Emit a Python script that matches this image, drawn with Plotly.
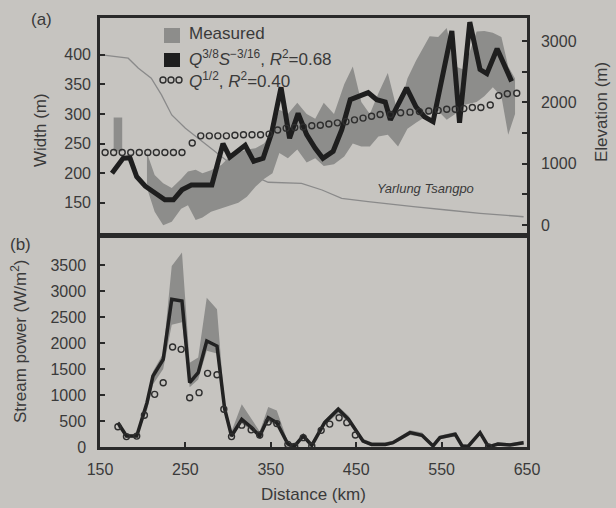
import plotly.graph_objects as go

# ---------------- Data ----------------
# (a) elevation profile (km, m)
elev_km = [152, 183, 195, 210, 222, 234, 250, 265, 281, 300, 314, 330, 347, 386, 410, 433, 464, 484, 517, 556, 595, 646]
elev_m = [2773, 2720, 2556, 2393, 2121, 1794, 1577, 1414, 1251, 1033, 951, 800, 697, 680, 571, 436, 380, 354, 299, 245, 191, 135]

# (a) measured width band: two separate segments
meas1_km = [166, 176]
meas1_lo = [237, 237]
meas1_hi = [294, 294]
meas2_km = [205, 214, 224, 234, 245, 253, 262, 270, 280, 292, 302, 312, 322, 332, 342, 352, 360, 370, 381,
            392, 402, 412, 424, 436, 446, 456, 466, 476, 487, 499, 510, 520, 536, 546, 556, 566, 576, 591,
            600, 610, 620, 628, 636]
meas2_lo = [175, 135, 112, 118, 140, 146, 121, 125, 135, 140, 145, 150, 160, 177, 190, 200, 234, 225, 240,
            218, 225, 212, 215, 228, 250, 245, 245, 262, 265, 245, 275, 285, 300, 305, 290, 300, 315, 320,
            330, 345, 330, 265, 300]
meas2_hi = [234, 197, 183, 175, 190, 203, 206, 200, 205, 214, 228, 235, 240, 242, 250, 270, 307, 300, 319,
            300, 292, 319, 300, 350, 380, 320, 300, 335, 369, 300, 360, 390, 431, 430, 445, 380, 375, 439,
            440, 437, 430, 380, 360]

# (a) Q^3/8 S^-3/16 model width
mod_km = [164, 177, 185, 193, 203, 214, 226, 236, 246, 257, 269, 281, 294, 302, 320, 330, 341, 351, 362, 372,
          382, 392, 402, 411, 423, 433, 443, 454, 464, 474, 484, 490, 500, 509, 520, 530, 540, 562, 571, 583,
          595, 603, 615, 632]
mod_w = [200, 225, 226, 194, 178, 166, 155, 155, 172, 180, 180, 180, 250, 227, 247, 220, 225, 268, 345, 259,
         301, 265, 242, 225, 237, 273, 324, 330, 336, 324, 320, 290, 318, 344, 312, 295, 287, 440, 285, 455,
         375, 368, 410, 355]

# (a) Q^1/2 model width
q_km = [156, 166, 176, 186, 196, 206, 216, 226, 236, 246, 258, 268, 278, 288, 298, 308, 318, 328, 338, 348,
        358, 368, 378, 388, 398, 408, 418, 428, 438, 448, 458, 468, 478, 490, 502, 513, 524, 535, 546, 556,
        566, 576, 586, 596, 607, 617, 627, 638]
q_w = [235, 235, 235, 235, 235, 235, 235, 235, 235, 235, 251, 263, 263, 263, 263, 264, 265, 265, 265, 266,
       273, 276, 277, 278, 280, 281, 283, 285, 287, 290, 293, 296, 299, 299, 302, 303, 304, 305, 306, 308,
       308, 309, 311, 311, 315, 331, 334, 335]

# (b) stream power
sp_km = [171, 181, 193, 205, 212, 224, 234, 246, 255, 265, 275, 287, 296, 304, 316, 327, 337, 347, 357, 370,
         378, 388, 398, 413, 429, 441, 458, 468, 484, 493, 513, 527, 540, 548, 566, 574, 581, 595, 605, 616,
         630, 646]
sp_mod = [467, 212, 212, 852, 1365, 1686, 2840, 2808, 1237, 1430, 2040, 1942, 730, 212, 532, 380, 212, 564,
          468, 58, 20, 212, 30, 468, 725, 532, 115, 50, 50, 83, 276, 224, 20, 180, 244, 20, 10, 276, 0, 58,
          40, 83]
sp_lo = [380, 180, 180, 700, 1200, 1500, 2350, 2400, 1150, 1300, 1850, 1800, 650, 180, 450, 320, 180, 480,
         420, 30, 0, 180, 10, 420, 650, 480, 80, 20, 20, 50, 230, 190, 0, 150, 200, 0, 0, 230, 0, 30, 20, 50]
sp_hi = [500, 240, 250, 900, 1450, 1800, 3480, 3740, 1620, 1720, 2870, 2650, 800, 300, 820, 550, 300, 770,
         703, 100, 60, 260, 80, 520, 780, 600, 160, 90, 90, 120, 320, 280, 60, 220, 290, 60, 50, 310, 40, 90,
         70, 120]
spq_km = [171, 181, 193, 202, 214, 224, 235, 245, 255, 266, 276, 287, 295, 304, 316, 327, 337, 347, 357, 370,
          378, 388, 398, 409, 419, 430, 439, 449, 605]
spq_val = [390, 200, 210, 610, 1013, 1237, 1923, 1878, 948, 1045, 1417, 1390, 725, 200, 420, 330, 230, 480,
           450, 50, 10, 180, 20, 320, 440, 564, 468, 230, 0]

x_ticks = [150, 250, 350, 450, 550, 650]
w_ticks = [150, 200, 250, 300, 350, 400]
e_ticks = [0, 500, 1000, 1500, 2000, 2500, 3000]
e_ticktext = ["0", "", "1000", "", "2000", "", "3000"]
sp_ticks = [0, 500, 1000, 1500, 2000, 2500, 3000, 3500]

# ---------------- Styling ----------------
BG = "#c6c4c0"
INK = "#2a2a2a"
TXT = "#3a3a3a"
GREY = "#8d8d8b"
FONT = "Liberation Sans, Arial, sans-serif"


def band(xs, lo, hi):
    return list(xs) + list(xs)[::-1], list(hi) + list(lo)[::-1]


fig = go.Figure()

# elevation (base axis of the top panel, drawn underneath)
fig.add_trace(go.Scatter(x=elev_km, y=elev_m, xaxis="x2", yaxis="y", mode="lines",
                         line=dict(color="#8a8a8a", width=1.3), showlegend=False, hoverinfo="skip"))

# measured band (top)
bx1, by1 = band(meas1_km, meas1_lo, meas1_hi)
bx2, by2 = band(meas2_km, meas2_lo, meas2_hi)
fig.add_trace(go.Scatter(x=bx1 + [None] + bx2, y=by1 + [None] + by2, xaxis="x2", yaxis="y2",
                         mode="lines", fill="toself", fillcolor=GREY, line=dict(width=0, color=GREY),
                         showlegend=False, hoverinfo="skip"))
# model width
fig.add_trace(go.Scatter(x=mod_km, y=mod_w, xaxis="x2", yaxis="y2", mode="lines",
                         line=dict(color="#1e1e1e", width=5), showlegend=False))
# Q^1/2
fig.add_trace(go.Scatter(x=q_km, y=q_w, xaxis="x2", yaxis="y2", mode="markers",
                         marker=dict(symbol="circle-open", size=6, color="#2e2e2e", line=dict(width=1.4)),
                         showlegend=False))

# bottom panel
sbx, sby = band(sp_km, sp_lo, sp_hi)
fig.add_trace(go.Scatter(x=sbx, y=sby, xaxis="x", yaxis="y3", mode="lines", fill="toself",
                         fillcolor=GREY, line=dict(width=0, color=GREY), showlegend=False, hoverinfo="skip"))
fig.add_trace(go.Scatter(x=sp_km, y=sp_mod, xaxis="x", yaxis="y3", mode="lines",
                         line=dict(color="#222222", width=3.5), showlegend=False))
fig.add_trace(go.Scatter(x=spq_km, y=spq_val, xaxis="x", yaxis="y3", mode="markers",
                         marker=dict(symbol="circle-open", size=6, color="#2e2e2e", line=dict(width=1.4)),
                         showlegend=False))

W, H = 616, 508
L, R, T, B = 100, 89, 18, 61
PW, PH = W - L - R, H - T - B


def px(x):
    return (x - L) / PW


def py(y):
    return 1 - (y - T) / PH


top_dom = [py(233), 1]
bot_dom = [0, py(238)]

axis_common = dict(showline=True, linecolor=INK, linewidth=2.5, showgrid=False, zeroline=False,
                   ticks="inside", ticklen=5, tickwidth=2, tickcolor=INK,
                   tickfont=dict(family=FONT, size=16, color=TXT))

fig.update_layout(
    width=W, height=H,
    margin=dict(l=L, r=R, t=T, b=B),
    paper_bgcolor=BG, plot_bgcolor=BG,
    font=dict(family=FONT, color=TXT),
    xaxis=dict(domain=[0, 1], anchor="y3", range=[150, 650], tickvals=x_ticks, mirror=True,
               ticklabelstandoff=6, **axis_common),
    xaxis2=dict(domain=[0, 1], anchor="y", range=[150, 650], showticklabels=False, showline=True,
                linecolor=INK, linewidth=2.5, mirror=True, showgrid=False, zeroline=False, ticks=""),
    yaxis=dict(domain=top_dom, anchor="x2", side="right", range=[-130, 3375], tickvals=e_ticks,
               ticktext=e_ticktext, mirror=True, ticklabelstandoff=8, **axis_common),
    yaxis2=dict(overlaying="y", anchor="x2", side="left", range=[99, 462], tickvals=w_ticks,
                ticklabelstandoff=8, **{k: v for k, v in axis_common.items() if k != "showline"},
                ),
    yaxis3=dict(domain=bot_dom, anchor="x", range=[0, 4020], tickvals=sp_ticks, mirror=True,
                ticklabelstandoff=8, **axis_common),
)
fig.layout.yaxis2.showline = False

ann = []


def text(x, y, s, size=16, angle=0, xanchor="center", italic=False):
    ann.append(dict(x=px(x), y=py(y), xref="paper", yref="paper", text=s, showarrow=False,
                    textangle=angle, xanchor=xanchor, yanchor="middle",
                    font=dict(family=FONT, size=size, color=TXT,
                              style="italic" if italic else "normal")))


text(42, 20, "(a)", 17)
text(20, 244, "(b)", 17)
text(40, 130, "Width (m)", 17, angle=-90)
text(601, 112, "Elevation (m)", 17, angle=-90)
text(19, 342, "Stream power (W/m<sup>2</sup>)", 17, angle=-90)
text(313, 494, "Distance (km)", 17)
text(425, 189, "Yarlung Tsangpo", 13, italic=True)
text(187, 34, "Measured", 17, xanchor="left")
text(187, 58, "<i>Q</i><sup>3/8</sup><i>S</i><sup>\u22123/16</sup>, <i>R</i><sup>2</sup>=0.68", 17, xanchor="left")
text(187, 80, "<i>Q</i><sup>1/2</sup>, <i>R</i><sup>2</sup>=0.40", 17, xanchor="left")
fig.update_layout(annotations=ann)

shapes = [
    dict(type="rect", xref="paper", yref="paper", x0=px(164), x1=px(180), y0=py(43), y1=py(28),
         fillcolor=GREY, line=dict(width=0)),
    dict(type="rect", xref="paper", yref="paper", x0=px(164), x1=px(180), y0=py(67), y1=py(53),
         fillcolor="#1e1e1e", line=dict(width=0)),
]
for cx in (163, 171, 179):
    shapes.append(dict(type="circle", xref="paper", yref="paper", x0=px(cx - 3), x1=px(cx + 3),
                       y0=py(83), y1=py(77), line=dict(color="#2e2e2e", width=1.4)))
fig.update_layout(shapes=shapes)

fig.write_html("out.html")
